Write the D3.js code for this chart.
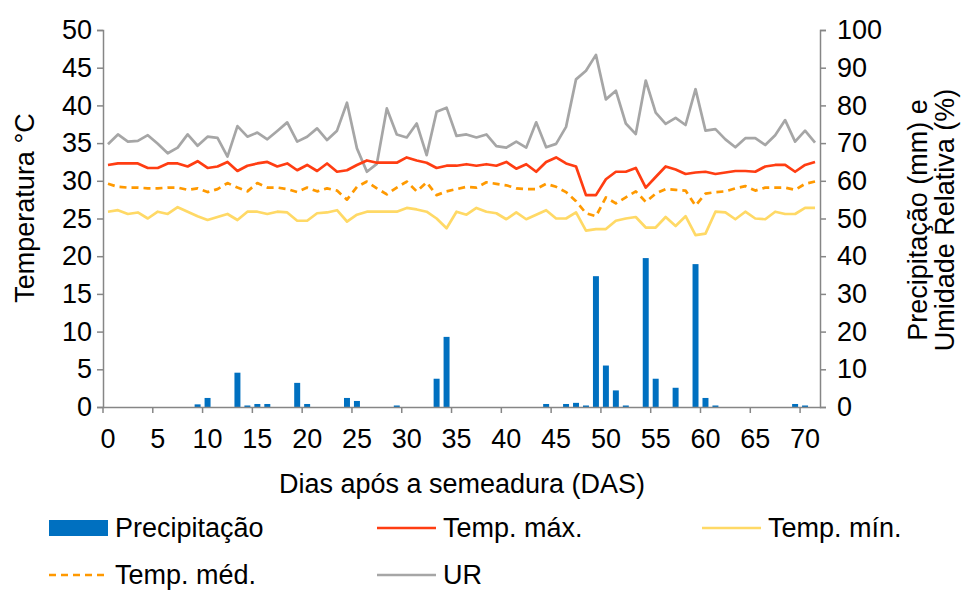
<!DOCTYPE html>
<html>
<head>
<meta charset="utf-8">
<script src="https://cdn.jsdelivr.net/npm/d3@7"></script>
<style>
  body { margin: 0; background: #fff; }
  text { font-family: "Liberation Sans", Arial, sans-serif; fill: #000; }
</style>
</head>
<body>
<svg id="chart" width="966" height="590"></svg>
<script>
// days after sowing
const days = d3.range(0, 72);

// precipitation (mm), right axis - only rainy days listed
const rainDays = [9, 10, 13, 14, 15, 16, 19, 20, 24, 25, 29, 33, 34, 44, 46, 47, 48, 49, 50, 51, 52, 54, 55, 57, 59, 60, 61, 69, 70];
const rainMm = [0.7, 2.4, 9.1, 0.4, 0.8, 0.8, 6.4, 0.8, 2.4, 1.6, 0.4, 7.5, 18.6, 0.8, 0.8, 1.1, 0.4, 34.7, 11.0, 4.4, 0.4, 39.5, 7.5, 5.1, 37.9, 2.4, 0.4, 0.8, 0.4];

// temperatures (°C), left axis
const tMax = [32.1, 32.3, 32.3, 32.3, 31.7, 31.7, 32.3, 32.3, 31.9, 32.6, 31.7, 31.9,
  32.5, 31.3, 32.0, 32.3, 32.5, 31.9, 32.3, 31.4, 32.1, 31.3, 32.3, 31.2,
  31.4, 32.1, 32.7, 32.4, 32.4, 32.4, 33.1, 32.7, 32.4, 31.7, 32.0, 32.0,
  32.2, 32.0, 32.2, 32.0, 32.5, 31.6, 32.2, 31.2, 32.5, 33.1, 32.3, 31.9,
  28.1, 28.1, 30.2, 31.2, 31.2, 31.7, 29.1, 30.5, 31.9, 31.5, 30.9, 31.1,
  31.2, 30.9, 31.1, 31.3, 31.3, 31.2, 31.9, 32.1, 32.1, 31.2, 32.1, 32.5];
const tMin = [25.9, 26.1, 25.6, 25.8, 25.0, 25.9, 25.6, 26.5, 25.9, 25.3, 24.8, 25.2,
  25.6, 24.8, 25.9, 25.9, 25.6, 25.9, 25.8, 24.7, 24.7, 25.7, 25.8, 26.1,
  24.6, 25.5, 25.9, 25.9, 25.9, 25.9, 26.4, 26.2, 25.9, 25.0, 23.7, 25.9,
  25.5, 26.4, 25.9, 25.7, 24.9, 25.8, 24.9, 25.5, 26.1, 25.0, 25.0, 25.8,
  23.4, 23.6, 23.6, 24.7, 25.0, 25.2, 23.8, 23.8, 25.2, 24.0, 25.3, 22.8,
  23.0, 25.9, 25.8, 24.9, 25.9, 25.0, 24.9, 25.9, 25.6, 25.6, 26.4, 26.4];
const tMed = [29.6, 29.2, 29.1, 29.1, 29.0, 29.0, 29.1, 29.1, 28.8, 29.0, 28.5, 28.9,
  29.7, 29.1, 28.6, 29.7, 29.1, 29.1, 28.9, 28.5, 29.1, 28.6, 29.0, 28.7,
  27.5, 29.2, 29.9, 29.0, 28.2, 29.1, 29.9, 28.6, 29.8, 28.1, 28.6, 28.9,
  29.2, 29.1, 29.8, 29.6, 29.4, 29.0, 28.9, 28.9, 29.6, 29.2, 28.5, 27.3,
  25.7, 25.3, 27.8, 27.0, 27.8, 28.6, 27.2, 28.3, 28.9, 28.8, 28.7, 26.7,
  28.3, 28.5, 28.6, 29.0, 29.3, 28.7, 29.1, 29.1, 29.1, 28.8, 29.6, 29.9];

// relative humidity (%), right axis
const ur = [69.7, 72.3, 70.4, 70.6, 72.1, 69.8, 67.3, 68.8, 72.3, 69.3, 71.7, 71.4,
  66.4, 74.5, 71.7, 72.8, 71.0, 73.2, 75.5, 70.4, 71.7, 73.9, 70.8, 73.3,
  80.7, 68.6, 62.4, 64.5, 79.2, 72.3, 71.5, 75.2, 66.8, 78.3, 79.4, 71.9,
  72.3, 71.5, 72.3, 69.2, 68.8, 70.4, 68.8, 75.5, 68.9, 69.8, 74.3, 86.9,
  89.2, 93.4, 81.6, 83.9, 75.2, 72.4, 86.6, 78.1, 75.1, 76.7, 74.8, 84.3,
  73.3, 73.7, 71.0, 68.9, 71.3, 71.3, 69.5, 72.1, 76.1, 70.4, 73.3, 70.1];

const tempTicks = d3.range(0, 51, 5);
const rightTicks = d3.range(0, 101, 10);
const dayLabels = d3.range(0, 71, 5);

const AXIS_COLOR = "#868686";
const FONT_SIZE = 27;

let svg = d3.select("#chart");
let plot = {left: 103, right: 820, top: 30, bottom: 407};

let x = d3.scaleBand()
    .domain(days)
    .range([plot.left, plot.right])
    .paddingInner(0.4)
    .paddingOuter(0.2);
let xc = (d) => x(d) + x.bandwidth() / 2;

let yL = d3.scaleLinear().domain([0, 50]).range([plot.bottom, plot.top]);
let yR = d3.scaleLinear().domain([0, 100]).range([plot.bottom, plot.top]);

// bars first, so the lines sit on top
svg.append("g")
    .selectAll("rect")
    .data(rainDays.map((d, i) => ({day: d, mm: rainMm[i]})))
    .join("rect")
    .attr("x", (d) => x(d.day))
    .attr("width", x.bandwidth())
    .attr("y", (d) => yR(d.mm))
    .attr("height", (d) => yR(0) - yR(d.mm))
    .attr("fill", "#0070C0");

let series = [
    {values: ur, scale: yR, color: "#A6A6A6", dash: null},
    {values: tMin, scale: yL, color: "#FFD966", dash: null},
    {values: tMed, scale: yL, color: "#FF9900", dash: "7,5"},
    {values: tMax, scale: yL, color: "#FF3D12", dash: null}
];

series.forEach((s) => {
    let line = d3.line()
        .x((d, i) => xc(days[i]))
        .y((d) => s.scale(d));
    svg.append("path")
        .datum(s.values)
        .attr("fill", "none")
        .attr("stroke", s.color)
        .attr("stroke-width", 2.7)
        .attr("stroke-linejoin", "round")
        .attr("stroke-dasharray", s.dash)
        .attr("d", line);
});

// left axis
let gL = svg.append("g")
    .attr("transform", `translate(${plot.left},0)`)
    .call(d3.axisLeft(yL).tickValues(tempTicks).tickSize(6).tickPadding(5));
// right axis
let gR = svg.append("g")
    .attr("transform", `translate(${plot.right},0)`)
    .call(d3.axisRight(yR).tickValues(rightTicks).tickSize(6).tickPadding(11));
// bottom axis: labels at category centres, tick marks between categories
let gB = svg.append("g")
    .attr("transform", `translate(0,${plot.bottom})`)
    .call(d3.axisBottom(x).tickValues(dayLabels).tickSize(0).tickPadding(22));
gB.selectAll(".tick").append("line")
    .attr("x1", -x.step() / 2).attr("x2", -x.step() / 2)
    .attr("y1", 0).attr("y2", 6);

[gL, gR, gB].forEach((g) => {
    g.select(".domain").attr("stroke", AXIS_COLOR).attr("stroke-width", 1.5);
    g.selectAll(".tick line").attr("stroke", AXIS_COLOR).attr("stroke-width", 1.5);
    g.selectAll(".tick text")
        .attr("fill", "#000")
        .style("font-size", FONT_SIZE + "px")
        .style("font-family", '"Liberation Sans", Arial, sans-serif');
});

// axis titles
svg.append("text")
    .attr("x", 462)
    .attr("y", 493)
    .attr("text-anchor", "middle")
    .style("font-size", FONT_SIZE + "px")
    .text("Dias após a semeadura (DAS)");

svg.append("text")
    .attr("transform", "translate(34,208) rotate(-90)")
    .attr("text-anchor", "middle")
    .style("font-size", FONT_SIZE + "px")
    .text("Temperatura °C");

let rightTitle = svg.append("text")
    .attr("transform", "translate(927,220) rotate(-90)")
    .attr("text-anchor", "middle")
    .style("font-size", FONT_SIZE + "px");
rightTitle.append("tspan").attr("x", 0).attr("dy", 0).text("Precipitação (mm) e");
rightTitle.append("tspan").attr("x", 0).attr("dy", 27).text("Umidade Relativa (%)");

// legend
let legendItems = [
    {label: "Precipitação", type: "bar", color: "#0070C0", x: 49, y: 528},
    {label: "Temp. máx.", type: "line", color: "#FF3D12", x: 377, y: 528},
    {label: "Temp. mín.", type: "line", color: "#FFD966", x: 702, y: 528},
    {label: "Temp. méd.", type: "dash", color: "#FF9900", x: 49, y: 575},
    {label: "UR", type: "line", color: "#A6A6A6", x: 377, y: 575}
];

let legend = svg.append("g");
legendItems.forEach((item) => {
    let g = legend.append("g").attr("transform", `translate(${item.x},${item.y})`);
    if (item.type === "bar") {
        g.append("rect").attr("x", 0).attr("y", -8).attr("width", 59).attr("height", 16).attr("fill", item.color);
    } else {
        g.append("line")
            .attr("x1", 0).attr("x2", 59).attr("y1", 0).attr("y2", 0)
            .attr("stroke", item.color).attr("stroke-width", 2.7)
            .attr("stroke-dasharray", item.type === "dash" ? "7,5" : null);
    }
    g.append("text")
        .attr("x", 66)
        .attr("y", 9)
        .style("font-size", FONT_SIZE + "px")
        .text(item.label);
});
</script>
</body>
</html>
